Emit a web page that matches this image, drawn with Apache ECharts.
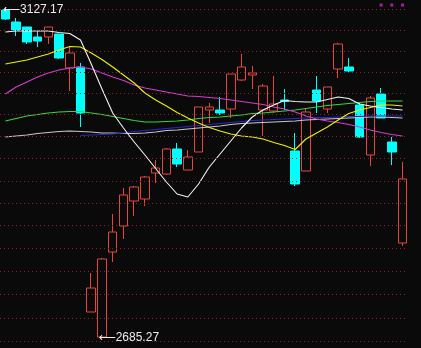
<!DOCTYPE html>
<html><head><meta charset="utf-8">
<script src="https://cdn.jsdelivr.net/npm/echarts@6/dist/echarts.min.js"></script>
<style>html,body{margin:0;padding:0;background:#0a0a0a;}#c{width:421px;height:348px;}</style>
</head><body><div id="c"></div>
<script>
const categories = ['1','2','3','4','5','6','7','8','9','10','11','12','13','14','15','16','17','18','19','20','21','22','23','24','25','26','27','28','29','30','31','32','33','34','35','36','37','38'];
const openValues  = [3123.15,3107.08,3100.38,3086.99,3086.99,3091.01,3045.48,3046.82,2718.74,2685.27,2799.09,2833.90,2867.38,2870.06,2904.88,2903.54,2937.01,2908.89,2933.00,2989.24,2989.24,2990.58,3029.41,3036.11,2989.24,2987.90,3002.63,2934.34,2907.55,3016.02,2990.58,3044.14,3046.82,2995.93,2928.98,3010.66,2946.39,2811.14];
const closeValues = [3111.10,3096.37,3080.30,3081.64,3100.38,3058.87,3065.57,2985.22,2750.88,2789.71,2825.87,2875.42,2886.13,2899.52,2911.57,2937.01,2916.93,2926.30,2993.26,2993.26,2985.22,3037.45,3046.82,3038.79,3021.38,2997.27,3000.62,2890.15,2986.56,3001.29,3020.04,3077.62,3041.46,2953.08,3005.31,2978.53,2933.00,2896.84];
const lowValues   = [3109.76,3088.33,3077.62,3073.60,3077.62,3057.53,3014.68,2966.47,2718.74,2685.27,2785.70,2816.50,2847.29,2860.69,2891.48,2902.20,2912.91,2908.89,2933.00,2971.83,2982.54,2978.53,3028.07,3017.36,2954.42,2985.22,2989.24,2887.47,2907.55,2985.22,2985.22,3032.09,3038.79,2951.74,2914.25,2978.53,2915.59,2807.12];
const highValues  = [3127.17,3112.44,3100.38,3095.03,3100.38,3091.01,3074.94,3052.18,2770.97,2791.05,2849.97,2884.79,2887.47,2900.86,2922.28,2938.35,2945.05,2935.67,2993.26,2998.61,3006.65,3037.45,3064.23,3048.16,3024.06,3034.77,3017.36,2958.44,2991.92,3034.77,3020.04,3078.96,3058.87,2998.61,3007.99,3018.70,2953.08,2919.61];

const maWhite  = [3093.69,3095.03,3095.03,3095.03,3095.03,3093.02,3091.68,3082.98,3050.84,3017.36,2985.22,2965.14,2946.39,2928.98,2910.90,2892.82,2876.75,2872.74,2890.15,2912.91,2930.32,2947.73,2965.14,2979.87,2989.24,2995.93,3001.96,3000.62,2999.95,2999.95,3003.30,3006.65,3004.64,2997.27,2994.60,2992.59,2990.58,2989.24];
const maYellow = [3050.84,3053.52,3056.19,3060.21,3064.23,3069.58,3074.27,3073.60,3065.57,3056.86,3046.82,3036.11,3025.39,3012.00,3002.63,2994.60,2985.89,2978.53,2971.83,2965.80,2961.12,2957.10,2954.42,2953.08,2950.41,2945.72,2941.70,2936.34,2950.41,2958.44,2966.47,2975.85,2984.55,2989.24,2992.59,2995.93,2995.93,2994.60];
const maMagenta= [3010.66,3020.04,3026.73,3033.43,3038.79,3042.80,3045.48,3046.82,3044.14,3038.79,3033.43,3028.74,3022.72,3018.70,3016.02,3013.34,3010.66,3007.99,3007.32,3005.98,3004.64,3002.63,3000.62,2998.61,2996.60,2993.26,2990.58,2986.56,2981.20,2977.19,2974.51,2972.50,2969.82,2966.47,2962.46,2959.11,2956.43,2954.42];
const maGreen  = [2974.51,2977.86,2981.20,2983.21,2985.22,2986.56,2987.23,2987.23,2985.22,2983.21,2980.53,2977.86,2975.18,2973.17,2973.17,2973.84,2974.51,2975.85,2977.86,2979.20,2979.87,2981.20,2982.54,2984.55,2985.22,2986.56,2987.90,2989.24,2991.25,2993.26,2995.26,2996.60,2997.94,2999.28,3000.62,3001.29,3001.29,3001.29];
const maGray   = [2953.08,2954.42,2955.76,2957.77,2959.11,2960.45,2961.12,2960.45,2959.78,2958.44,2958.44,2957.77,2957.77,2958.44,2959.78,2961.79,2962.46,2963.80,2965.14,2966.47,2967.81,2969.82,2971.16,2971.83,2972.50,2973.17,2973.84,2974.51,2975.85,2976.52,2977.19,2977.86,2978.53,2979.20,2979.87,2979.87,2979.20,2978.53];
const maBlue   = [null,null,null,null,null,null,null,2955.09,2955.76,2956.43,2957.10,2958.44,2960.45,2961.79,2963.13,2964.47,2965.80,2967.14,2968.48,2969.82,2971.16,2972.50,2973.84,2975.18,2975.85,2976.52,2977.19,2977.86,2978.53,2979.20,2979.20,2979.87,2980.54,2980.54,2981.20,2981.20,2981.20,2981.20];

const gridLevels = [3123.82,3095.70,3067.58,3039.46,3011.33,2983.21,2953.75,2924.29,2893.49,2864.03,2834.57,2803.77,2772.97,2742.18,2710.04,2679.24];
const signalCategories = ['36','37','38'];
const signalLevel = 3129.84;

const candleData = categories.map((c, i) => [openValues[i], closeValues[i], lowValues[i], highValues[i]]);

const chart = echarts.init(document.getElementById('c'), null, {renderer: 'canvas'});
function maSeries(data, color, z) {
  return {type: 'line', data: data, symbol: 'none', silent: true, z: z,
          lineStyle: {color: color, width: 1.1}, connectNulls: false};
}
chart.setOption({
  backgroundColor: '#0a0a0a',
  animation: false,
  grid: {left: -1.4, right: 13.1, top: 0, bottom: 0},
  xAxis: {type: 'category', data: categories, show: false, boundaryGap: true},
  yAxis: {type: 'value', min: 2670.54, max: 3136.54, show: false, splitLine: {show: false}},
  series: [
    {type: 'line', data: [], z: 1, silent: true,
     markLine: {silent: true, symbol: ['none', 'none'], animation: false,
                label: {show: false},
                lineStyle: {color: '#8c2323', type: [1, 3], width: 1},
                emphasis: {disabled: true},
                data: gridLevels.map(v => ({yAxis: v}))}},
    {type: 'candlestick', data: candleData, barWidth: 9, z: 2, silent: true,
     itemStyle: {color: 'transparent', color0: '#00ffff', borderColor: '#e8443a', borderColor0: '#00ffff', borderWidth: 1},
     markPoint: {symbol: 'circle', symbolSize: 1, itemStyle: {color: 'transparent'}, animation: false, silent: true,
                 label: {show: true, position: 'right', distance: 0, color: '#ececec',
                         fontFamily: 'Liberation Sans, DejaVu Sans', fontSize: 12,
                         formatter: p => '\u27f5' + Number(p.value).toFixed(2)},
                 data: [{type: 'max', valueDim: 'highest', label: {offset: [-3, 3]}},
                        {type: 'min', valueDim: 'lowest', label: {offset: [-4, 1]}}]}},
    maSeries(maGray, '#c8c8c8', 3),
    maSeries(maBlue, '#2828c8', 3),
    maSeries(maGreen, '#3cd23c', 3),
    maSeries(maMagenta, '#d23cd2', 3),
    maSeries(maYellow, '#f0f000', 3),
    maSeries(maWhite, '#f4f4f4', 3),
    {type: 'scatter', data: signalCategories.map(c => [c, signalLevel]), symbol: 'rect', symbolSize: 3,
     silent: true, z: 4, itemStyle: {color: '#d020d0'}}
  ]
});
</script></body></html>
